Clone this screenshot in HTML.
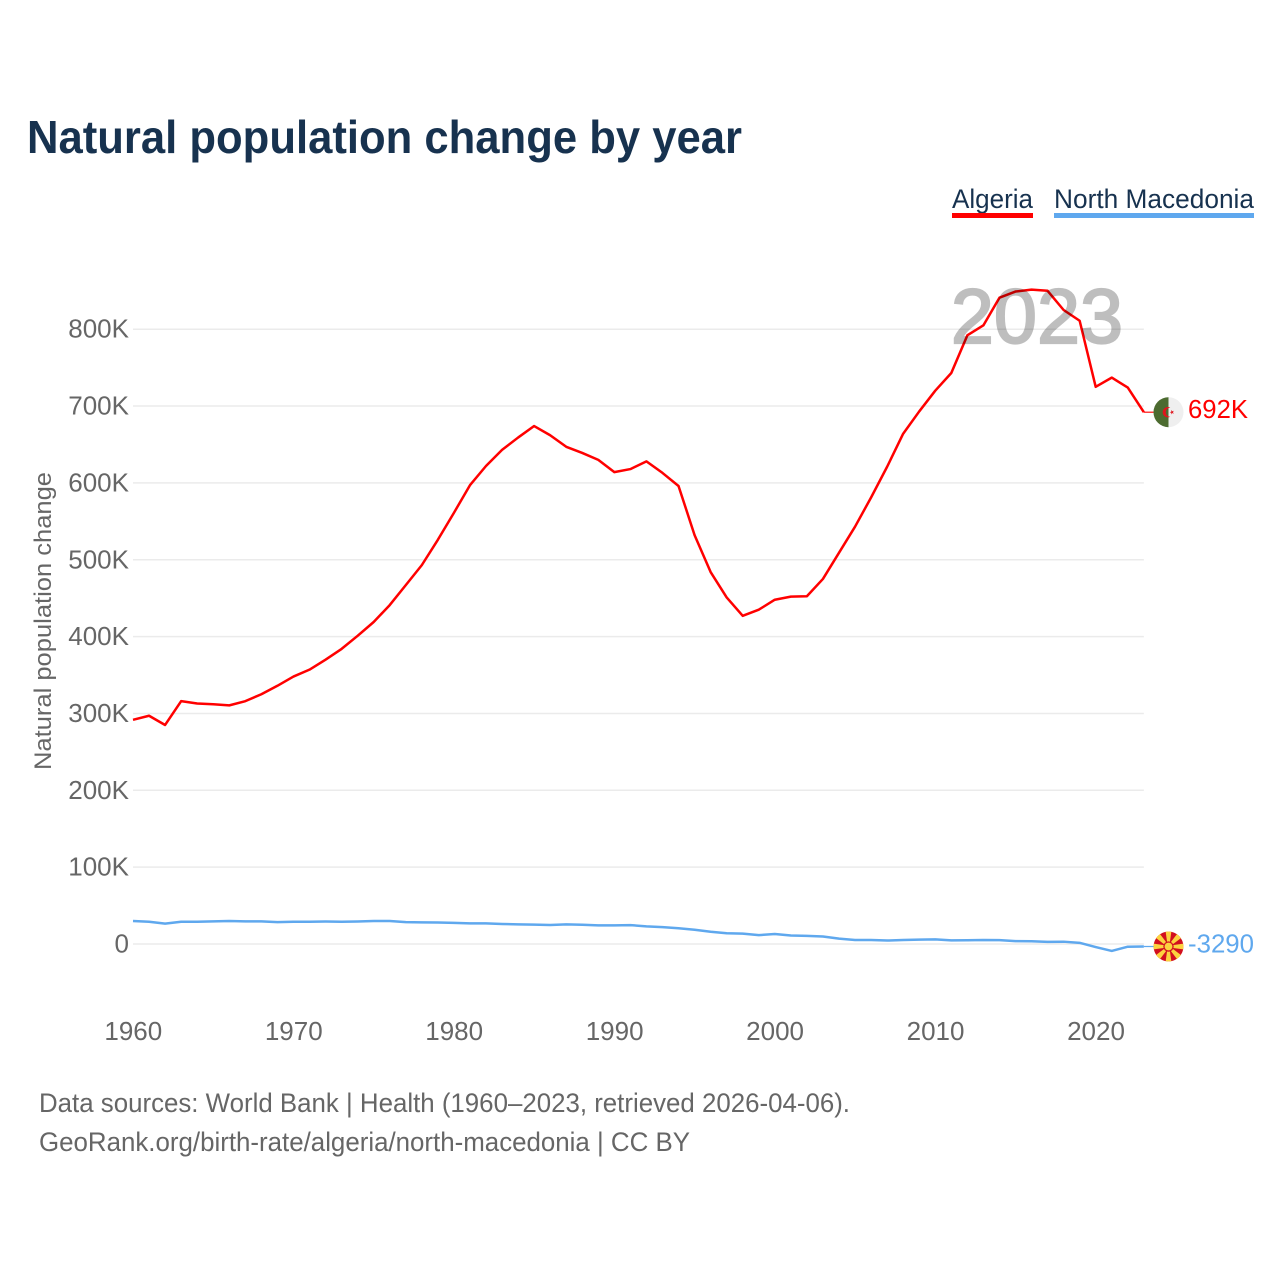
<!DOCTYPE html>
<html lang="en">
<head>
<meta charset="utf-8">
<title>Natural population change by year</title>
<style>
html,body{margin:0;padding:0;background:#fff;width:1280px;height:1280px;overflow:hidden}
svg{display:block}
text{font-family:"Liberation Sans",sans-serif}
</style>
</head>
<body>
<svg id="chart" width="1280" height="1280" viewBox="0 0 1280 1280">
  <defs>
    <clipPath id="flag-clip"><circle r="15"></circle></clipPath>
  </defs>
  <text x="27" y="153" font-size="46" font-weight="700" fill="#17324f" textLength="715" lengthAdjust="spacingAndGlyphs">Natural population change by year</text>

  <g>
    <text x="952" y="208" font-size="27" fill="#17324f" textLength="81" lengthAdjust="spacingAndGlyphs">Algeria</text>
    <rect x="952" y="213" width="81" height="5" fill="#ff0000"></rect>
  </g>
  <g>
    <text x="1054" y="208" font-size="27" fill="#17324f" textLength="200" lengthAdjust="spacingAndGlyphs">North Macedonia</text>
    <rect x="1054" y="213" width="200" height="5" fill="#5fa8ee"></rect>
  </g>

  <g id="grid"></g>
  <g id="yticks"></g>
  <g id="xticks"></g>

  <text transform="translate(51,621) rotate(-90)" text-anchor="middle" font-size="24" fill="#666" textLength="298" lengthAdjust="spacingAndGlyphs">Natural population change</text>

  <g id="series"></g>

  <text x="951" y="343" font-size="77" font-weight="400" fill="#000" stroke="#000" stroke-width="2.2" opacity="0.25" textLength="172" lengthAdjust="spacing">2023</text>

  <g id="ends"></g>

  <text x="39" y="1112" font-size="27" fill="#666" textLength="811" lengthAdjust="spacingAndGlyphs">Data sources: World Bank | Health (1960–2023, retrieved 2026-04-06).</text>
  <text x="39" y="1151" font-size="27" fill="#666" textLength="651" lengthAdjust="spacingAndGlyphs">GeoRank.org/birth-rate/algeria/north-macedonia | CC BY</text>
</svg>
<script>
// Chart data (values in thousands of people)
const years = [1960,1961,1962,1963,1964,1965,1966,1967,1968,1969,1970,1971,1972,1973,1974,1975,1976,1977,1978,1979,1980,1981,1982,1983,1984,1985,1986,1987,1988,1989,1990,1991,1992,1993,1994,1995,1996,1997,1998,1999,2000,2001,2002,2003,2004,2005,2006,2007,2008,2009,2010,2011,2012,2013,2014,2015,2016,2017,2018,2019,2020,2021,2022,2023];
const algeria = [291.7,297,285,316,313,312,310.5,316,325,336,348,357,370,384,401,419,441,467,493,526,561,597,622,643,659,674,662,647,639,630,614,618,628,613,596,532,484,451,427,435,448,452,452.5,475,509,543,581,621,664,693,720,743,792,805,841,849,851.5,850,825,811,725,737,724,692];
const northMacedonia = [30,29,26.5,29,29,29.5,30,29.5,29.5,28.5,29,29,29.2,29,29.3,30,30,28.5,28.2,28,27.5,26.8,26.8,26,25.6,25.2,24.7,25.5,25,24.2,24.2,24.6,23,22,20.5,18.5,16,14,13.5,11.5,13,11,10.5,9.8,7,5.2,5.2,4.5,5.2,5.7,6,4.7,4.8,5.2,5,3.7,3.6,2.7,3,1.5,-4,-9,-3.5,-3.29];
const yTickValues = [0,100,200,300,400,500,600,700,800];
const yTickLabels = ['0','100K','200K','300K','400K','500K','600K','700K','800K'];
const xTickValues = [1960,1970,1980,1990,2000,2010,2020];
const xTickLabels = ['1960','1970','1980','1990','2000','2010','2020'];
const endLabelAlgeria = '692K';
const endLabelNorthMacedonia = '-3290';

const NS = 'http://www.w3.org/2000/svg';
function xScale(year){ return 133 + (year - 1960) * 16.045; }
function yScale(v){ return 944 - v * 0.7685; }
function make(tag, parent, attrs){
  const el = document.createElementNS(NS, tag);
  for (const k in attrs) el.setAttribute(k, attrs[k]);
  parent.appendChild(el);
  return el;
}
const gGrid = document.getElementById('grid');
const gY = document.getElementById('yticks');
const gX = document.getElementById('xticks');
const gSeries = document.getElementById('series');
const gEnds = document.getElementById('ends');
const lastYear = years[years.length - 1];

yTickValues.forEach(function(v, i){
  const line = make('line', gGrid, {x1: xScale(1960), x2: xScale(lastYear), y1: yScale(v), y2: yScale(v), stroke: '#ebebeb', 'stroke-width': 1.5});
  
  
  const t = make('text', gY, {x: 129, y: yScale(v) + 8.5, 'text-anchor': 'end', 'font-size': 26, fill: '#666'});
  t.textContent = yTickLabels[i];
  
  
});

xTickValues.forEach(function(v, i){
  const t = make('text', gX, {x: xScale(v) + 0.3, y: 1040, 'text-anchor': 'middle', 'font-size': 26, fill: '#666'});
  t.textContent = xTickLabels[i];
  
  
});

function pathFor(vals){
  return vals.map(function(v, i){
    return (i ? 'L' : 'M') + xScale(years[i]).toFixed(2) + ' ' + yScale(v).toFixed(2);
  }).join(' ');
}

const lineMk = make('path', gSeries, {d: pathFor(northMacedonia), fill: 'none', stroke: '#5fa8ee', 'stroke-width': 2.5, 'stroke-linejoin': 'round'});


const lineDz = make('path', gSeries, {d: pathFor(algeria), fill: 'none', stroke: '#ff0000', 'stroke-width': 2.5, 'stroke-linejoin': 'round'});



// Algeria end marker
const yDz = yScale(algeria[algeria.length - 1]);
const xEnd = xScale(lastYear);
const cx = 1168.5, r = 15;
const connDz = make('line', gEnds, {x1: xEnd, x2: cx, y1: yDz, y2: yDz, stroke: '#ff0000', 'stroke-width': 1.2});


const flagDz = make('g', gEnds, {transform: 'translate(' + cx + ',' + yDz + ')'});


make('circle', flagDz, {r: r, fill: '#efefef'});
make('path', flagDz, {d: 'M0 ' + (-r) + ' A' + r + ' ' + r + ' 0 0 0 0 ' + r + ' Z', fill: '#4c6b30'});
make('path', flagDz, {d: 'M1.8 -4.6 A5.2 5.2 0 1 0 1.8 4.6 A3.8 3.8 0 1 1 1.8 -4.6 Z', fill: '#e0141c'});
make('path', flagDz, {d: 'M1.2 0 L5.4 -1.4 L2.8 2.3 L2.8 -2.3 L5.4 1.4 Z', fill: '#e0141c'});
const labelDz = make('text', gEnds, {x: 1188, y: yDz + 5.7, 'font-size': 26, fill: '#ff0000', textLength: 60, lengthAdjust: 'spacingAndGlyphs'});
labelDz.textContent = endLabelAlgeria;



// North Macedonia end marker
const yMk = yScale(northMacedonia[northMacedonia.length - 1]);
const connMk = make('line', gEnds, {x1: xEnd, x2: cx, y1: yMk, y2: yMk, stroke: '#5fa8ee', 'stroke-width': 1.2});


const flagMk = make('g', gEnds, {transform: 'translate(' + cx + ',' + yMk + ')'});


const flagMkClip = make('g', flagMk, {'clip-path': 'url(#flag-clip)'});
make('circle', flagMkClip, {r: r, fill: '#d20f1f'});
[0, 45, 90, 135, 180, 225, 270, 315].forEach(function(a){
  make('path', flagMkClip, {d: 'M-0.8 0 L0.8 0 L3 -16 L-3 -16 Z', fill: '#fcd23f', transform: 'rotate(' + a + ')'});
});
make('circle', flagMkClip, {r: 5.2, fill: '#d20f1f'});
make('circle', flagMkClip, {r: 3.9, fill: '#fcd23f'});
const labelMk = make('text', gEnds, {x: 1188, y: yMk + 6, 'font-size': 26, fill: '#5fa8ee', textLength: 66, lengthAdjust: 'spacingAndGlyphs'});
labelMk.textContent = endLabelNorthMacedonia;


</script>
</body>
</html>
